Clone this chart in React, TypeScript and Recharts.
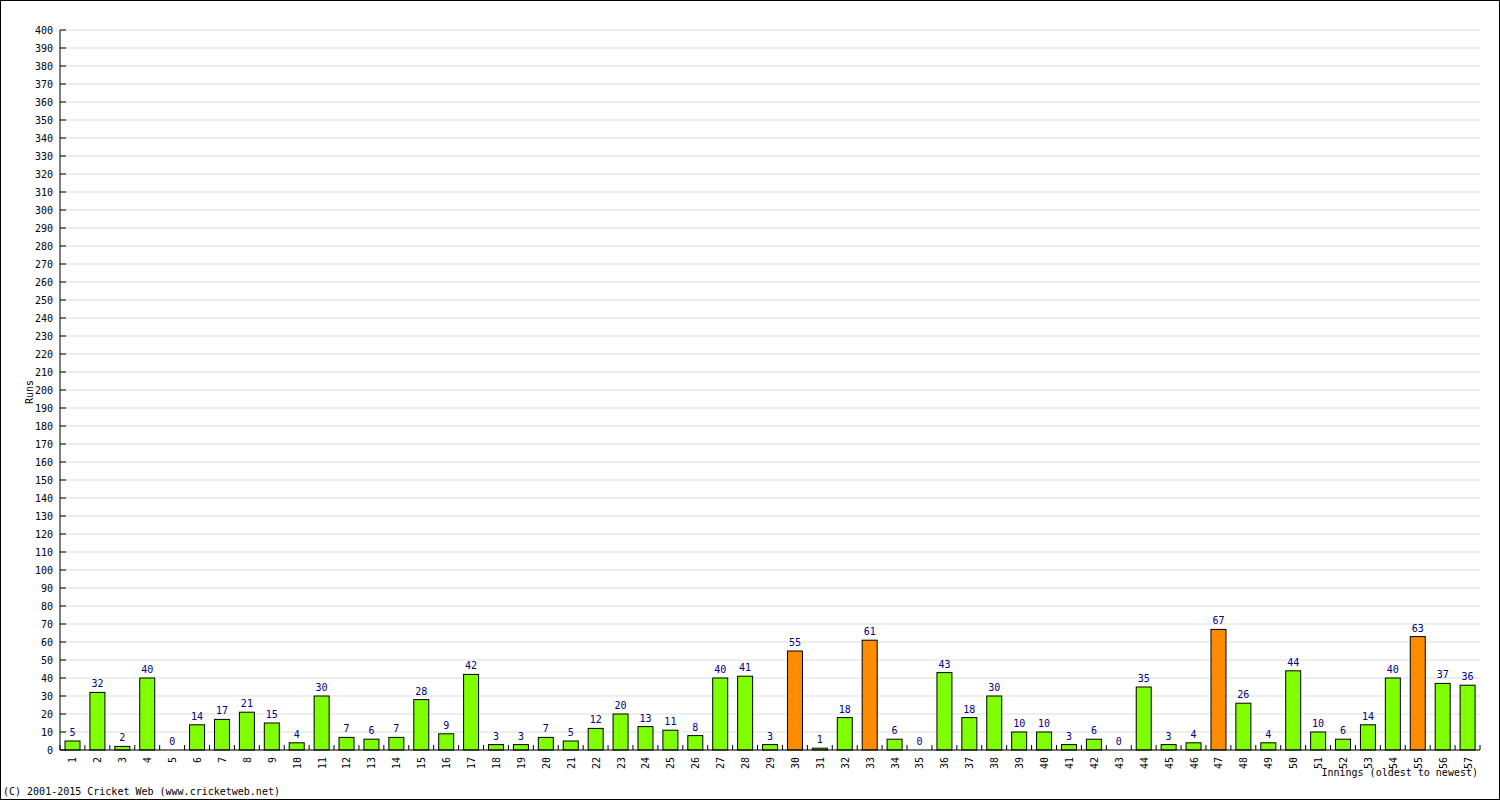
import React from "react";
import { Bar, BarChart, CartesianGrid, LabelList, XAxis, YAxis } from "recharts";

// Runs per innings, oldest first
const innings = Array.from({ length: 57 }, (_, i) => String(i + 1));
const runs = [
  5, 32, 2, 40, 0, 14, 17, 21, 15, 4,
  30, 7, 6, 7, 28, 9, 42, 3, 3, 7,
  5, 12, 20, 13, 11, 8, 40, 41, 3, 55,
  1, 18, 61, 6, 0, 43, 18, 30, 10, 10,
  3, 6, 0, 35, 3, 4, 67, 26, 4, 44,
  10, 6, 14, 40, 63, 37, 36,
];
const yTicks = Array.from({ length: 41 }, (_, i) => i * 10);

const W = 1500;
const H = 800;
const LEFT = 60;
const RIGHT = 20;
const FONT = "'DejaVu Sans Mono', monospace";
const GREEN = "#80ff00";
const ORANGE = "#ff8c00";

const data = innings.map((name, i) => ({ name, runs: runs[i] }));
const band = (W - LEFT - RIGHT) / innings.length;

function YTick(props: any) {
  const { x, y, payload } = props;
  return (
    <g>
      <line x1={x + 7} x2={x + 13} y1={y} y2={y} stroke="#000" />
      <text x={x} y={y + 3.5} textAnchor="end" fontSize={10} fontFamily={FONT} fill="#000">
        {payload.value}
      </text>
    </g>
  );
}

function XTick(props: any) {
  const { x, y, payload, index } = props;
  const left = x - band / 2;
  const right = x + band / 2;
  return (
    <g>
      <line x1={left} x2={left} y1={y} y2={y - 5} stroke="#000" />
      {index === innings.length - 1 && (
        <line x1={right} x2={right} y1={y} y2={y - 5} stroke="#000" />
      )}
      <text
        transform={`translate(${x + 4},${y + 7}) rotate(-90)`}
        textAnchor="end"
        fontSize={10}
        fontFamily={FONT}
        fill="#000"
      >
        {payload.value}
      </text>
    </g>
  );
}

function RunBar(props: any) {
  const { x, y, width, height, payload } = props;
  if (!height || height <= 0) return null;
  return (
    <rect
      x={x}
      y={y}
      width={width}
      height={height}
      fill={payload.runs >= 50 ? ORANGE : GREEN}
      stroke="#000"
      strokeWidth={1}
    />
  );
}

export default function App() {
  return (
    <div
      style={{
        position: "absolute",
        left: 0,
        top: 0,
        width: W,
        height: H,
        boxSizing: "border-box",
        border: "1px solid #000",
        background: "#fff",
      }}
    >
      <BarChart
        width={W - 2}
        height={H - 2}
        data={data}
        margin={{ top: 29, right: RIGHT - 1, left: -1, bottom: 0 }}
        barSize={15}
      >
        <CartesianGrid stroke="#dddddd" vertical={false} />
        <XAxis
          dataKey="name"
          interval={0}
          height={49}
          tickSize={0}
          tickMargin={0}
          tickLine={false}
          axisLine={{ stroke: "#000" }}
          tick={<XTick />}
        />
        <YAxis
          domain={[0, 400]}
          ticks={yTicks}
          interval={0}
          width={LEFT}
          tickSize={7}
          tickMargin={0}
          tickLine={false}
          axisLine={{ stroke: "#000" }}
          tick={<YTick />}
        />
        <Bar dataKey="runs" shape={<RunBar />} isAnimationActive={false}>
          <LabelList
            dataKey="runs"
            position="top"
            offset={5}
            fill="#000080"
            fontSize={10}
            fontFamily={FONT}
          />
        </Bar>
      </BarChart>
      <div
        style={{
          position: "absolute",
          left: 29,
          top: 391,
          transform: "translate(-50%, -50%) rotate(-90deg)",
          fontFamily: FONT,
          fontSize: 10,
          color: "#000",
          lineHeight: "10px",
        }}
      >
        Runs
      </div>
      <div
        style={{
          position: "absolute",
          right: 21,
          top: 766,
          fontFamily: FONT,
          fontSize: 10,
          color: "#000",
          lineHeight: "12px",
        }}
      >
        Innings (oldest to newest)
      </div>
      <div
        style={{
          position: "absolute",
          left: 2,
          top: 785,
          fontFamily: FONT,
          fontSize: 10,
          color: "#000",
          lineHeight: "12px",
        }}
      >
        (C) 2001-2015 Cricket Web (www.cricketweb.net)
      </div>
    </div>
  );
}
